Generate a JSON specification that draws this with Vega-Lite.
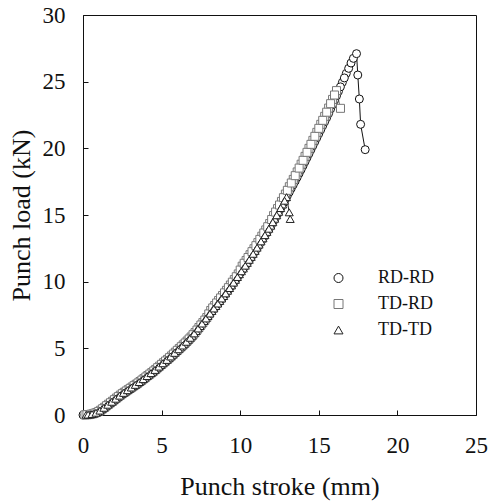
{
  "$schema": "https://vega.github.io/schema/vega-lite/v6.json",
  "autosize": "none",
  "width": 393,
  "height": 400,
  "padding": {"left": 83, "top": 15, "right": 13, "bottom": 87},
  "background": "white",
  "config": {
    "view": {"stroke": "#111", "strokeWidth": 1},
    "font": "Liberation Serif",
    "axis": {
      "labelFont": "Liberation Serif",
      "titleFont": "Liberation Serif",
      "labelFontSize": 23,
      "titleFontSize": 26,
      "titleFontWeight": "normal",
      "labelColor": "#111",
      "titleColor": "#111",
      "domainColor": "#111",
      "tickColor": "#111",
      "grid": false,
      "tickSize": -5,
      "labelFlush": false
    },
    "legend": {
      "orient": "none",
      "legendX": 246.5,
      "legendY": 254,
      "padding": 0,
      "labelFont": "Liberation Serif",
      "labelFontSize": 18,
      "labelColor": "#111",
      "symbolSize": 81,
      "labelOffset": 30.5,
      "rowPadding": 8,
      "symbolStrokeWidth": 1,
      "symbolFillColor": "white"
    }
  },
  "data": {
    "values": [
      {"s":"RD-RD","x":0,"y":0},{"s":"RD-RD","x":0.25,"y":0.02},{"s":"RD-RD","x":0.5,"y":0.05},{"s":"RD-RD","x":0.75,"y":0.13},
      {"s":"RD-RD","x":1.0,"y":0.25},{"s":"RD-RD","x":1.25,"y":0.47},{"s":"RD-RD","x":1.5,"y":0.7},{"s":"RD-RD","x":1.75,"y":0.92},
      {"s":"RD-RD","x":2.0,"y":1.15},{"s":"RD-RD","x":2.25,"y":1.38},{"s":"RD-RD","x":2.5,"y":1.6},{"s":"RD-RD","x":2.75,"y":1.8},
      {"s":"RD-RD","x":3.0,"y":2.0},{"s":"RD-RD","x":3.25,"y":2.2},{"s":"RD-RD","x":3.5,"y":2.4},{"s":"RD-RD","x":3.75,"y":2.62},
      {"s":"RD-RD","x":4.0,"y":2.85},{"s":"RD-RD","x":4.25,"y":3.07},{"s":"RD-RD","x":4.5,"y":3.3},{"s":"RD-RD","x":4.75,"y":3.55},
      {"s":"RD-RD","x":5.0,"y":3.8},{"s":"RD-RD","x":5.25,"y":4.05},{"s":"RD-RD","x":5.5,"y":4.3},{"s":"RD-RD","x":5.75,"y":4.57},
      {"s":"RD-RD","x":6.0,"y":4.85},{"s":"RD-RD","x":6.25,"y":5.12},{"s":"RD-RD","x":6.5,"y":5.4},{"s":"RD-RD","x":6.75,"y":5.7},
      {"s":"RD-RD","x":7.0,"y":6.0},{"s":"RD-RD","x":7.25,"y":6.37},{"s":"RD-RD","x":7.5,"y":6.75},{"s":"RD-RD","x":7.75,"y":7.12},
      {"s":"RD-RD","x":8.0,"y":7.5},{"s":"RD-RD","x":8.25,"y":7.87},{"s":"RD-RD","x":8.5,"y":8.25},{"s":"RD-RD","x":8.75,"y":8.62},
      {"s":"RD-RD","x":9.0,"y":9.0},{"s":"RD-RD","x":9.25,"y":9.4},{"s":"RD-RD","x":9.5,"y":9.8},{"s":"RD-RD","x":9.75,"y":10.22},
      {"s":"RD-RD","x":10.0,"y":10.65},{"s":"RD-RD","x":10.25,"y":11.07},{"s":"RD-RD","x":10.5,"y":11.5},{"s":"RD-RD","x":10.75,"y":11.95},
      {"s":"RD-RD","x":11.0,"y":12.4},{"s":"RD-RD","x":11.25,"y":12.87},{"s":"RD-RD","x":11.5,"y":13.35},{"s":"RD-RD","x":11.75,"y":13.82},
      {"s":"RD-RD","x":12.0,"y":14.3},{"s":"RD-RD","x":12.25,"y":14.82},{"s":"RD-RD","x":12.5,"y":15.35},{"s":"RD-RD","x":12.75,"y":15.9},
      {"s":"RD-RD","x":13.0,"y":16.45},{"s":"RD-RD","x":13.25,"y":17.0},{"s":"RD-RD","x":13.5,"y":17.55},{"s":"RD-RD","x":13.75,"y":18.12},
      {"s":"RD-RD","x":14.0,"y":18.7},{"s":"RD-RD","x":14.25,"y":19.3},{"s":"RD-RD","x":14.5,"y":19.9},{"s":"RD-RD","x":14.75,"y":20.5},
      {"s":"RD-RD","x":15.0,"y":21.1},{"s":"RD-RD","x":15.25,"y":21.7},{"s":"RD-RD","x":15.5,"y":22.3},{"s":"RD-RD","x":15.75,"y":22.95},
      {"s":"RD-RD","x":16.0,"y":23.6},{"s":"RD-RD","x":16.25,"y":24.27},{"s":"RD-RD","x":16.5,"y":24.95},{"s":"RD-RD","x":16.75,"y":25.62},
      {"s":"RD-RD","x":16.9,"y":26.0},{"s":"RD-RD","x":17.05,"y":26.4},{"s":"RD-RD","x":17.2,"y":26.75},{"s":"RD-RD","x":17.4,"y":27.1},
      {"s":"RD-RD","x":17.48,"y":25.5},{"s":"RD-RD","x":17.58,"y":23.7},{"s":"RD-RD","x":17.66,"y":21.8},{"s":"RD-RD","x":17.95,"y":19.9},
      {"s":"RD-RD","x":0.125,"y":0.01},{"s":"RD-RD","x":0.375,"y":0.035},{"s":"RD-RD","x":0.625,"y":0.09},{"s":"RD-RD","x":0.875,"y":0.19},
      {"s":"RD-RD","x":1.125,"y":0.36},{"s":"RD-RD","x":1.375,"y":0.58},{"s":"RD-RD","x":1.625,"y":0.81},{"s":"RD-RD","x":1.875,"y":1.03},
      {"s":"RD-RD","x":2.125,"y":1.26},{"s":"RD-RD","x":2.375,"y":1.49},{"s":"RD-RD","x":2.625,"y":1.7},{"s":"RD-RD","x":2.875,"y":1.9},
      {"s":"RD-RD","x":3.125,"y":2.1},{"s":"RD-RD","x":3.375,"y":2.3},{"s":"RD-RD","x":3.625,"y":2.51},{"s":"RD-RD","x":3.875,"y":2.73},
      {"s":"RD-RD","x":4.125,"y":2.96},{"s":"RD-RD","x":4.375,"y":3.18},{"s":"RD-RD","x":4.625,"y":3.42},{"s":"RD-RD","x":4.875,"y":3.67},
      {"s":"RD-RD","x":5.125,"y":3.92},{"s":"RD-RD","x":5.375,"y":4.17},{"s":"RD-RD","x":5.625,"y":4.43},{"s":"RD-RD","x":5.875,"y":4.71},
      {"s":"RD-RD","x":6.125,"y":4.98},{"s":"RD-RD","x":6.375,"y":5.26},{"s":"RD-RD","x":6.625,"y":5.55},{"s":"RD-RD","x":6.875,"y":5.85},
      {"s":"RD-RD","x":7.125,"y":6.18},{"s":"RD-RD","x":7.375,"y":6.56},{"s":"RD-RD","x":7.625,"y":6.93},{"s":"RD-RD","x":7.875,"y":7.31},
      {"s":"RD-RD","x":8.125,"y":7.68},{"s":"RD-RD","x":8.375,"y":8.06},{"s":"RD-RD","x":8.625,"y":8.43},{"s":"RD-RD","x":8.875,"y":8.81},
      {"s":"RD-RD","x":9.125,"y":9.2},{"s":"RD-RD","x":9.375,"y":9.6},{"s":"RD-RD","x":9.625,"y":10.01},{"s":"RD-RD","x":9.875,"y":10.43},
      {"s":"RD-RD","x":10.125,"y":10.86},{"s":"RD-RD","x":10.375,"y":11.28},{"s":"RD-RD","x":10.625,"y":11.72},{"s":"RD-RD","x":10.875,"y":12.17},
      {"s":"RD-RD","x":11.125,"y":12.63},{"s":"RD-RD","x":11.375,"y":13.11},{"s":"RD-RD","x":11.625,"y":13.58},{"s":"RD-RD","x":11.875,"y":14.06},
      {"s":"RD-RD","x":12.125,"y":14.56},{"s":"RD-RD","x":12.375,"y":15.08},{"s":"RD-RD","x":12.625,"y":15.62},{"s":"RD-RD","x":12.875,"y":16.17},
      {"s":"RD-RD","x":13.125,"y":16.72},{"s":"RD-RD","x":13.375,"y":17.27},{"s":"RD-RD","x":13.625,"y":17.83},{"s":"RD-RD","x":13.875,"y":18.41},
      {"s":"RD-RD","x":14.125,"y":19.0},{"s":"RD-RD","x":14.375,"y":19.6},{"s":"RD-RD","x":14.625,"y":20.2},{"s":"RD-RD","x":14.875,"y":20.8},
      {"s":"RD-RD","x":15.125,"y":21.4},{"s":"RD-RD","x":15.375,"y":22.0},{"s":"RD-RD","x":15.625,"y":22.62},{"s":"RD-RD","x":15.875,"y":23.27},
      {"s":"RD-RD","x":16.125,"y":23.93},{"s":"RD-RD","x":16.375,"y":24.61},{"s":"RD-RD","x":16.625,"y":25.28},

      {"s":"TD-RD","x":0.125,"y":0.01},{"s":"TD-RD","x":0.375,"y":0.03},{"s":"TD-RD","x":0.625,"y":0.09},{"s":"TD-RD","x":0.875,"y":0.19},
      {"s":"TD-RD","x":1.125,"y":0.36},{"s":"TD-RD","x":1.375,"y":0.58},{"s":"TD-RD","x":1.625,"y":0.81},{"s":"TD-RD","x":1.875,"y":1.03},
      {"s":"TD-RD","x":2.125,"y":1.27},{"s":"TD-RD","x":2.375,"y":1.49},{"s":"TD-RD","x":2.625,"y":1.7},{"s":"TD-RD","x":2.875,"y":1.9},
      {"s":"TD-RD","x":3.125,"y":2.1},{"s":"TD-RD","x":3.375,"y":2.3},{"s":"TD-RD","x":3.625,"y":2.51},{"s":"TD-RD","x":3.875,"y":2.73},
      {"s":"TD-RD","x":4.125,"y":2.96},{"s":"TD-RD","x":4.375,"y":3.18},{"s":"TD-RD","x":4.625,"y":3.42},{"s":"TD-RD","x":4.875,"y":3.67},
      {"s":"TD-RD","x":5.125,"y":3.92},{"s":"TD-RD","x":5.375,"y":4.17},{"s":"TD-RD","x":5.625,"y":4.43},{"s":"TD-RD","x":5.875,"y":4.71},
      {"s":"TD-RD","x":6.125,"y":4.98},{"s":"TD-RD","x":6.375,"y":5.26},{"s":"TD-RD","x":6.625,"y":5.55},{"s":"TD-RD","x":6.875,"y":5.85},
      {"s":"TD-RD","x":7.125,"y":6.18},{"s":"TD-RD","x":7.375,"y":6.56},{"s":"TD-RD","x":7.625,"y":6.93},{"s":"TD-RD","x":7.875,"y":7.31},
      {"s":"TD-RD","x":8.125,"y":7.84},{"s":"TD-RD","x":8.375,"y":8.21},{"s":"TD-RD","x":8.625,"y":8.59},{"s":"TD-RD","x":8.875,"y":8.96},
      {"s":"TD-RD","x":9.125,"y":9.35},{"s":"TD-RD","x":9.375,"y":9.75},{"s":"TD-RD","x":9.625,"y":10.16},{"s":"TD-RD","x":9.875,"y":10.58},
      {"s":"TD-RD","x":10.125,"y":11.16},{"s":"TD-RD","x":10.375,"y":11.59},{"s":"TD-RD","x":10.625,"y":12.02},{"s":"TD-RD","x":10.875,"y":12.47},
      {"s":"TD-RD","x":11.125,"y":12.93},{"s":"TD-RD","x":11.375,"y":13.41},{"s":"TD-RD","x":11.625,"y":13.88},{"s":"TD-RD","x":11.875,"y":14.36},
      {"s":"TD-RD","x":12.125,"y":14.96},{"s":"TD-RD","x":12.375,"y":15.48},{"s":"TD-RD","x":12.625,"y":16.02},{"s":"TD-RD","x":12.875,"y":16.57},
      {"s":"TD-RD","x":13.125,"y":17.12},{"s":"TD-RD","x":13.375,"y":17.67},{"s":"TD-RD","x":13.625,"y":18.23},{"s":"TD-RD","x":13.875,"y":18.81},
      {"s":"TD-RD","x":14.125,"y":19.4},{"s":"TD-RD","x":14.375,"y":20.0},{"s":"TD-RD","x":14.625,"y":20.6},{"s":"TD-RD","x":14.875,"y":21.2},
      {"s":"TD-RD","x":15.125,"y":21.8},{"s":"TD-RD","x":15.375,"y":22.4},{"s":"TD-RD","x":15.625,"y":23.02},{"s":"TD-RD","x":15.875,"y":23.67},
      {"s":"TD-RD","x":16.125,"y":24.33},{"s":"TD-RD","x":16.38,"y":23.0},
      {"s":"TD-RD","x":0.25,"y":0.02},{"s":"TD-RD","x":0.5,"y":0.06},{"s":"TD-RD","x":0.75,"y":0.14},{"s":"TD-RD","x":1.0,"y":0.27},
      {"s":"TD-RD","x":1.25,"y":0.47},{"s":"TD-RD","x":1.5,"y":0.7},{"s":"TD-RD","x":1.75,"y":0.92},{"s":"TD-RD","x":2.0,"y":1.15},
      {"s":"TD-RD","x":2.25,"y":1.38},{"s":"TD-RD","x":2.5,"y":1.6},{"s":"TD-RD","x":2.75,"y":1.8},{"s":"TD-RD","x":3.0,"y":2.0},
      {"s":"TD-RD","x":3.25,"y":2.2},{"s":"TD-RD","x":3.5,"y":2.4},{"s":"TD-RD","x":3.75,"y":2.62},{"s":"TD-RD","x":4.0,"y":2.85},
      {"s":"TD-RD","x":4.25,"y":3.07},{"s":"TD-RD","x":4.5,"y":3.3},{"s":"TD-RD","x":4.75,"y":3.55},{"s":"TD-RD","x":5.0,"y":3.8},
      {"s":"TD-RD","x":5.25,"y":4.05},{"s":"TD-RD","x":5.5,"y":4.3},{"s":"TD-RD","x":5.75,"y":4.57},{"s":"TD-RD","x":6.0,"y":4.85},
      {"s":"TD-RD","x":6.25,"y":5.12},{"s":"TD-RD","x":6.5,"y":5.4},{"s":"TD-RD","x":6.75,"y":5.7},{"s":"TD-RD","x":7.0,"y":6.02},
      {"s":"TD-RD","x":7.25,"y":6.37},{"s":"TD-RD","x":7.5,"y":6.75},{"s":"TD-RD","x":7.75,"y":7.12},{"s":"TD-RD","x":8.0,"y":7.58},
      {"s":"TD-RD","x":8.25,"y":8.03},{"s":"TD-RD","x":8.5,"y":8.4},{"s":"TD-RD","x":8.75,"y":8.78},{"s":"TD-RD","x":9.0,"y":9.16},
      {"s":"TD-RD","x":9.25,"y":9.55},{"s":"TD-RD","x":9.5,"y":9.96},{"s":"TD-RD","x":9.75,"y":10.37},{"s":"TD-RD","x":10.0,"y":10.87},
      {"s":"TD-RD","x":10.25,"y":11.38},{"s":"TD-RD","x":10.5,"y":11.81},{"s":"TD-RD","x":10.75,"y":12.25},{"s":"TD-RD","x":11.0,"y":12.7},
      {"s":"TD-RD","x":11.25,"y":13.17},{"s":"TD-RD","x":11.5,"y":13.65},{"s":"TD-RD","x":11.75,"y":14.12},{"s":"TD-RD","x":12.0,"y":14.66},
      {"s":"TD-RD","x":12.25,"y":15.22},{"s":"TD-RD","x":12.5,"y":15.75},{"s":"TD-RD","x":12.75,"y":16.3},{"s":"TD-RD","x":13.0,"y":16.85},
      {"s":"TD-RD","x":13.25,"y":17.4},{"s":"TD-RD","x":13.5,"y":17.95},{"s":"TD-RD","x":13.75,"y":18.52},{"s":"TD-RD","x":14.0,"y":19.1},
      {"s":"TD-RD","x":14.25,"y":19.7},{"s":"TD-RD","x":14.5,"y":20.3},{"s":"TD-RD","x":14.75,"y":20.9},{"s":"TD-RD","x":15.0,"y":21.5},
      {"s":"TD-RD","x":15.25,"y":22.1},{"s":"TD-RD","x":15.5,"y":22.71},{"s":"TD-RD","x":15.75,"y":23.35},{"s":"TD-RD","x":16.0,"y":24.0},

      {"s":"TD-TD","x":0.2,"y":0.02},{"s":"TD-TD","x":0.45,"y":0.04},{"s":"TD-TD","x":0.7,"y":0.11},{"s":"TD-TD","x":0.95,"y":0.23},
      {"s":"TD-TD","x":1.2,"y":0.43},{"s":"TD-TD","x":1.45,"y":0.65},{"s":"TD-TD","x":1.7,"y":0.88},{"s":"TD-TD","x":1.95,"y":1.1},
      {"s":"TD-TD","x":2.2,"y":1.33},{"s":"TD-TD","x":2.45,"y":1.56},{"s":"TD-TD","x":2.7,"y":1.76},{"s":"TD-TD","x":2.95,"y":1.96},
      {"s":"TD-TD","x":3.2,"y":2.16},{"s":"TD-TD","x":3.45,"y":2.36},{"s":"TD-TD","x":3.7,"y":2.58},{"s":"TD-TD","x":3.95,"y":2.8},
      {"s":"TD-TD","x":4.2,"y":3.03},{"s":"TD-TD","x":4.45,"y":3.25},{"s":"TD-TD","x":4.7,"y":3.5},{"s":"TD-TD","x":4.95,"y":3.75},
      {"s":"TD-TD","x":5.2,"y":4.0},{"s":"TD-TD","x":5.45,"y":4.25},{"s":"TD-TD","x":5.7,"y":4.52},{"s":"TD-TD","x":5.95,"y":4.79},
      {"s":"TD-TD","x":6.2,"y":5.07},{"s":"TD-TD","x":6.45,"y":5.34},{"s":"TD-TD","x":6.7,"y":5.64},{"s":"TD-TD","x":6.95,"y":5.94},
      {"s":"TD-TD","x":7.2,"y":6.3},{"s":"TD-TD","x":7.45,"y":6.67},{"s":"TD-TD","x":7.7,"y":7.05},{"s":"TD-TD","x":7.95,"y":7.42},
      {"s":"TD-TD","x":8.2,"y":7.8},{"s":"TD-TD","x":8.45,"y":8.17},{"s":"TD-TD","x":8.7,"y":8.55},{"s":"TD-TD","x":8.95,"y":8.92},
      {"s":"TD-TD","x":9.2,"y":9.32},{"s":"TD-TD","x":9.45,"y":9.72},{"s":"TD-TD","x":9.7,"y":10.14},{"s":"TD-TD","x":9.95,"y":10.56},
      {"s":"TD-TD","x":10.2,"y":10.99},{"s":"TD-TD","x":10.45,"y":11.41},{"s":"TD-TD","x":10.7,"y":11.86},{"s":"TD-TD","x":10.95,"y":12.31},
      {"s":"TD-TD","x":11.2,"y":12.78},{"s":"TD-TD","x":11.45,"y":13.25},{"s":"TD-TD","x":11.7,"y":13.73},{"s":"TD-TD","x":11.95,"y":14.2},
      {"s":"TD-TD","x":12.2,"y":14.72},{"s":"TD-TD","x":12.45,"y":15.24},{"s":"TD-TD","x":12.7,"y":15.79},{"s":"TD-TD","x":12.95,"y":16.34},
      {"s":"TD-TD","x":13.12,"y":15.2},{"s":"TD-TD","x":13.18,"y":14.7},
      {"s":"TD-TD","x":0.325,"y":0.03},{"s":"TD-TD","x":0.575,"y":0.075},{"s":"TD-TD","x":0.825,"y":0.17},{"s":"TD-TD","x":1.075,"y":0.33},
      {"s":"TD-TD","x":1.325,"y":0.54},{"s":"TD-TD","x":1.575,"y":0.77},{"s":"TD-TD","x":1.825,"y":0.99},{"s":"TD-TD","x":2.075,"y":1.22},
      {"s":"TD-TD","x":2.325,"y":1.45},{"s":"TD-TD","x":2.575,"y":1.66},{"s":"TD-TD","x":2.825,"y":1.86},{"s":"TD-TD","x":3.075,"y":2.06},
      {"s":"TD-TD","x":3.325,"y":2.26},{"s":"TD-TD","x":3.575,"y":2.47},{"s":"TD-TD","x":3.825,"y":2.69},{"s":"TD-TD","x":4.075,"y":2.92},
      {"s":"TD-TD","x":4.325,"y":3.14},{"s":"TD-TD","x":4.575,"y":3.38},{"s":"TD-TD","x":4.825,"y":3.63},{"s":"TD-TD","x":5.075,"y":3.88},
      {"s":"TD-TD","x":5.325,"y":4.13},{"s":"TD-TD","x":5.575,"y":4.39},{"s":"TD-TD","x":5.825,"y":4.66},{"s":"TD-TD","x":6.075,"y":4.93},
      {"s":"TD-TD","x":6.325,"y":5.21},{"s":"TD-TD","x":6.575,"y":5.49},{"s":"TD-TD","x":6.825,"y":5.79},{"s":"TD-TD","x":7.075,"y":6.12},
      {"s":"TD-TD","x":7.325,"y":6.49},{"s":"TD-TD","x":7.575,"y":6.86},{"s":"TD-TD","x":7.825,"y":7.24},{"s":"TD-TD","x":8.075,"y":7.61},
      {"s":"TD-TD","x":8.325,"y":7.99},{"s":"TD-TD","x":8.575,"y":8.36},{"s":"TD-TD","x":8.825,"y":8.74},{"s":"TD-TD","x":9.075,"y":9.12},
      {"s":"TD-TD","x":9.325,"y":9.52},{"s":"TD-TD","x":9.575,"y":9.93},{"s":"TD-TD","x":9.825,"y":10.35},{"s":"TD-TD","x":10.075,"y":10.78},
      {"s":"TD-TD","x":10.325,"y":11.2},{"s":"TD-TD","x":10.575,"y":11.64},{"s":"TD-TD","x":10.825,"y":12.09},{"s":"TD-TD","x":11.075,"y":12.55},
      {"s":"TD-TD","x":11.325,"y":13.02},{"s":"TD-TD","x":11.575,"y":13.49},{"s":"TD-TD","x":11.825,"y":13.97},{"s":"TD-TD","x":12.075,"y":14.46},
      {"s":"TD-TD","x":12.325,"y":14.98},{"s":"TD-TD","x":12.575,"y":15.52},{"s":"TD-TD","x":12.825,"y":16.07}
    ]
  },
  "encoding": {
    "x": {
      "field": "x", "type": "quantitative",
      "scale": {"domain": [0, 25], "nice": false, "zero": false},
      "axis": {"title": "Punch stroke (mm)", "values": [0, 5, 10, 15, 20, 25], "labelPadding": 24, "titleBaseline": "alphabetic", "titleY": 79}
    },
    "y": {
      "field": "y", "type": "quantitative",
      "scale": {"domain": [0, 30], "nice": false, "zero": false},
      "axis": {"title": "Punch load (kN)", "values": [0, 5, 10, 15, 20, 25, 30], "labelPadding": 23, "titleBaseline": "alphabetic", "titleX": -54, "titleY": 200, "titleAngle": -90}
    },
    "color": {
      "field": "s", "type": "nominal",
      "scale": {"domain": ["RD-RD", "TD-RD", "TD-TD"], "range": ["#111111", "#777777", "#222222"]},
      "legend": {"title": null}
    }
  },
  "layer": [
    {
      "mark": {"type": "line", "strokeWidth": 1}
    },
    {
      "mark": {"type": "point", "filled": false, "fill": "white", "fillOpacity": 1, "opacity": 1, "strokeWidth": 1, "size": 64},
      "encoding": {
        "shape": {
          "field": "s", "type": "nominal",
          "scale": {"domain": ["RD-RD", "TD-RD", "TD-TD"], "range": ["circle", "square", "triangle-up"]},
          "legend": {"title": null}
        }
      }
    }
  ]
}
